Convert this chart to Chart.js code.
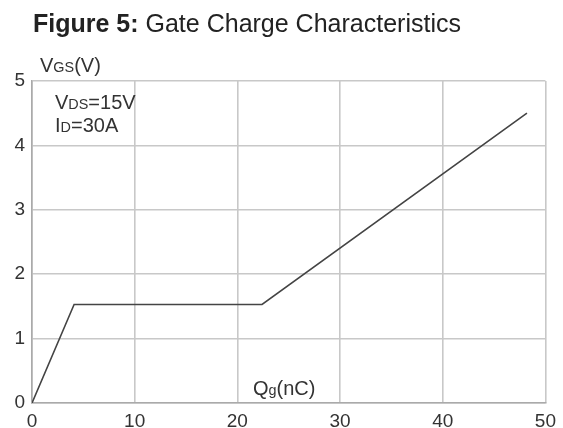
<!DOCTYPE html>
<html>
<head>
<meta charset="utf-8">
<script src="https://cdn.jsdelivr.net/npm/chart.js@4"></script>
<style>
html,body{margin:0;padding:0;background:#fff;}
#wrap{position:relative;width:563px;height:428px;font-family:"Liberation Sans",Arial,sans-serif;color:#333;}
#c{position:absolute;left:0;top:0;}
.t{position:absolute;white-space:nowrap;line-height:1;}
.s{font-size:72%;}
</style>
</head>
<body>
<div id="wrap">
<canvas id="c" width="563" height="428"></canvas>
<div class="t" id="title" style="left:33px;top:11px;font-size:25px;color:#222;"><b>Figure 5:</b> Gate Charge Characteristics</div>
<div class="t" style="left:40px;top:55px;font-size:20px;">V<span class="s">GS</span>(V)</div>
<div class="t" style="left:55px;top:92px;font-size:20px;">V<span class="s">DS</span>=15V</div>
<div class="t" style="left:55px;top:115px;font-size:20px;">I<span class="s">D</span>=30A</div>
<div class="t" style="left:253px;top:378px;font-size:20px;">Q<span class="s">g</span>(nC)</div>
</div>
<script>
const qg = [0, 4.1, 22.4, 48.2];
const vgs = [0, 1.53, 1.53, 4.5];
const xTicks = [0, 10, 20, 30, 40, 50];
const yTicks = [0, 1, 2, 3, 4, 5];

const points = qg.map((x, i) => ({x: x, y: vgs[i]}));

new Chart(document.getElementById('c'), {
  type: 'scatter',
  data: {datasets: [{
    data: points, showLine: true, borderColor: '#444', borderWidth: 1.6,
    pointRadius: 0, tension: 0, fill: false
  }]},
  options: {
    responsive: false, animation: false,
    layout: {padding: {left: 0, right: 15, top: 81, bottom: 0}},
    plugins: {legend: {display: false}, tooltip: {enabled: false}},
    scales: {
      x: {
        type: 'linear', min: 0, max: 50,
        afterBuildTicks: s => { s.ticks = xTicks.map(v => ({value: v})); },
        afterFit: s => { s.height = 25; },
        grid: {color: '#c8c8c8', lineWidth: 1.6, drawTicks: false},
        border: {color: '#aaa', width: 1.6},
        ticks: {padding: 7, color: '#333', font: {family: 'Liberation Sans', size: 19}}
      },
      y: {
        type: 'linear', min: 0, max: 5,
        afterBuildTicks: s => { s.ticks = yTicks.map(v => ({value: v})); },
        afterFit: s => { s.width = 32; },
        grid: {color: '#c8c8c8', lineWidth: 1.6, drawTicks: false},
        border: {color: '#aaa', width: 1.6},
        ticks: {padding: 7, color: '#333', font: {family: 'Liberation Sans', size: 19}}
      }
    }
  }
});
</script>
</body>
</html>
